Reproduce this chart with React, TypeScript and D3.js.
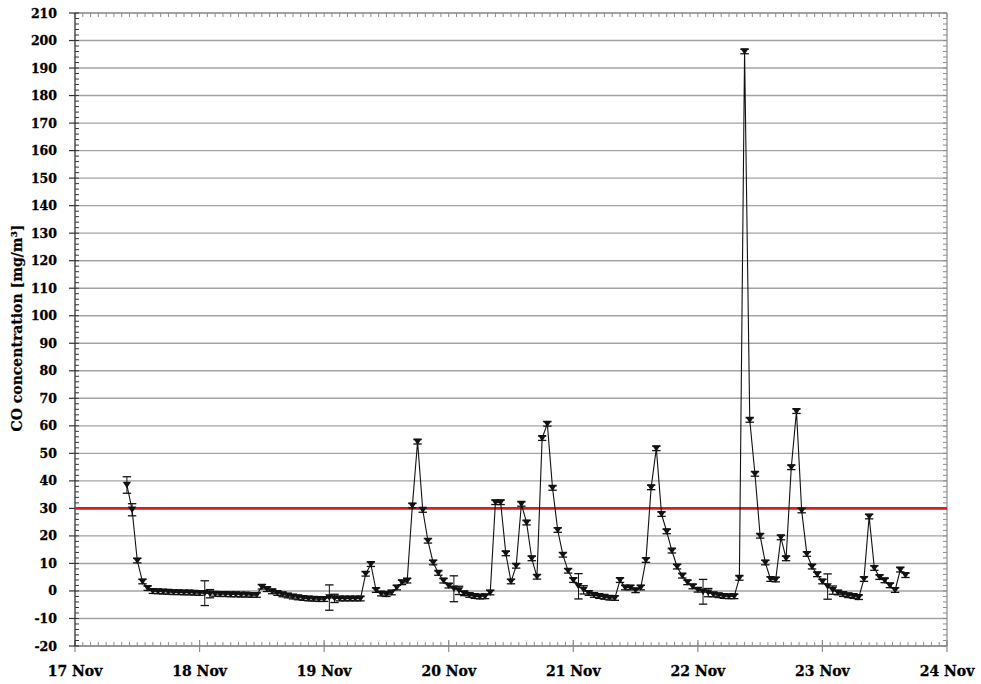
import React from 'react';
import * as d3 from 'd3';

// Hourly CO readings, first reading 17 Nov 10:00
const day17 = [38.5, 29.5, 11.0, 3.4, 1.0, -0.1, -0.2, -0.3, -0.4, -0.5, -0.5, -0.6, -0.6, -0.7];
const day18 = [-0.8, -0.8, -1.0, -1.1, -1.2, -1.2, -1.3, -1.3, -1.4, -1.4, -1.5, -1.5, 1.5, 0.6, -0.2, -0.8, -1.3, -1.7, -2.1, -2.4, -2.6, -2.8, -2.9, -3.0];
const day19 = [-3.0, -2.4, -2.7, -2.8, -2.8, -2.8, -2.8, -2.8, 6.2, 9.7, 0.3, -1.0, -1.2, -0.6, 1.2, 3.1, 3.7, 31.0, 54.2, 29.4, 18.2, 10.3, 6.5, 3.7];
const day20 = [1.9, 0.8, 0.2, -0.9, -1.5, -1.9, -2.1, -2.0, -0.6, 32.2, 32.2, 13.6, 3.4, 9.1, 31.6, 24.8, 11.8, 5.1, 55.5, 60.7, 37.4, 22.1, 13.1, 7.3];
const day21 = [3.9, 1.7, 0.4, -0.8, -1.5, -1.9, -2.2, -2.5, -2.6, 3.9, 1.2, 1.2, 0.2, 1.2, 11.2, 37.6, 51.8, 27.9, 21.6, 14.6, 8.8, 5.5, 3.1, 1.6];
const day22 = [0.4, -0.3, -0.6, -1.3, -1.6, -1.9, -2.0, -2.0, 4.7, 196.0, 62.1, 42.5, 20.0, 10.3, 4.3, 4.1, 19.4, 11.8, 44.9, 65.3, 29.2, 13.4, 8.8, 6.0];
const day23 = [3.4, 1.6, 0.3, -0.6, -1.2, -1.6, -1.9, -2.3, 4.3, 27.0, 8.3, 5.0, 3.8, 2.0, 0.3, 7.7, 5.7];

// Readings with wider uncertainty (index into the hourly series, ± value)
const wideErrIndex = [0, 1, 15, 16, 39, 40, 63, 64, 87, 88, 111, 112, 135, 136];
const wideErrSize = [3.0, 2.2, 4.5, 1.5, 4.6, 1.5, 4.7, 1.5, 4.6, 1.5, 4.5, 1.5, 4.6, 1.5];
const baseErr = 0.8;

const limitValue = 30;
const yTicks = d3.range(-20, 211, 10);
const dayTicks = d3.range(17, 25);

const W = 981;
const H = 684;
const left = 75;
const right = 947;
const top = 13;
const bottom = 646;

const start = new Date(2009, 10, 17, 10);
const values = [...day17, ...day18, ...day19, ...day20, ...day21, ...day22, ...day23];
const points = values.map((v, i) => ({ t: d3.timeHour.offset(start, i), v }));
const errOf = (i: number) => {
  const k = wideErrIndex.indexOf(i);
  return k >= 0 ? wideErrSize[k] : baseErr;
};

export default function App() {
  const x = d3.scaleTime()
    .domain([new Date(2009, 10, 17), new Date(2009, 10, 24)])
    .range([left, right]);
  const y = d3.scaleLinear().domain([-20, 210]).range([bottom, top]);

  const line = d3.line<{ t: Date; v: number }>()
    .x(d => x(d.t))
    .y(d => y(d.v));

  const dayDates = dayTicks.map(d => new Date(2009, 10, d));
  const minorX = d3.range(0, 7 * 16 + 1).map(k =>
    d3.timeMinute.offset(new Date(2009, 10, 17), k * 90));
  const minorY = d3.range(-20, 211, 2);
  const fmt = d3.timeFormat('%d Nov');

  const font = "'DejaVu Serif', serif";

  return (
    <svg width={W} height={H} style={{ position: 'absolute', left: 0, top: 0, background: '#fff' }}>
      {/* horizontal gridlines */}
      {yTicks.map(t => (
        <line key={'g' + t} x1={left} x2={right} y1={y(t)} y2={y(t)} stroke="#a3a3a3" strokeWidth={1.4} />
      ))}

      {/* frame: top and right mirror axes */}
      <line x1={left} x2={right} y1={top} y2={top} stroke="#8c8c8c" strokeWidth={1.2} />
      <line x1={right} x2={right} y1={top} y2={bottom} stroke="#8c8c8c" strokeWidth={1.2} />
      {minorX.map((t, i) => (
        <line key={'tm' + i} x1={x(t)} x2={x(t)} y1={top} y2={top + 4} stroke="#8c8c8c" strokeWidth={1} />
      ))}
      {minorY.map(v => (
        <line key={'rm' + v} x1={right - 4} x2={right} y1={y(v)} y2={y(v)} stroke="#8c8c8c" strokeWidth={1} />
      ))}

      {/* bottom axis */}
      <line x1={left} x2={right} y1={bottom} y2={bottom} stroke="#8c8c8c" strokeWidth={1.4} />
      {minorX.map((t, i) => (
        <line key={'bm' + i} x1={x(t)} x2={x(t)} y1={bottom - 4} y2={bottom} stroke="#8c8c8c" strokeWidth={1} />
      ))}
      {dayDates.map((d, i) => (
        <g key={'xd' + i}>
          <line x1={x(d)} x2={x(d)} y1={bottom - 6} y2={bottom + 6} stroke="#8c8c8c" strokeWidth={1.2} />
          <text x={x(d)} y={676} textAnchor="middle" fontFamily={font} fontWeight="bold" fontSize={14} fill="#000"
            stroke="#000" strokeWidth={0.3}>
            {fmt(d)}
          </text>
        </g>
      ))}

      {/* left axis */}
      <line x1={left} x2={left} y1={top} y2={bottom} stroke="#333" strokeWidth={1.3} />
      {minorY.map(v => (
        <line key={'lm' + v} x1={left} x2={left + 4} y1={y(v)} y2={y(v)} stroke="#333" strokeWidth={1} />
      ))}
      {yTicks.map(t => (
        <g key={'yl' + t}>
          <line x1={left - 6} x2={left} y1={y(t)} y2={y(t)} stroke="#333" strokeWidth={1.2} />
          <text x={57} y={y(t) + 4.5} textAnchor="end" fontFamily={font} fontWeight="bold" fontSize={12.5} fill="#000"
            stroke="#000" strokeWidth={0.3}>
            {t}
          </text>
        </g>
      ))}
      <text
        transform={`translate(22,328) rotate(-90)`}
        textAnchor="middle"
        fontFamily={font}
        fontWeight="bold"
        fontSize={14}
        fill="#000"
        stroke="#000"
        strokeWidth={0.2}
      >
        CO concentration [mg/m³]
      </text>

      {/* limit value */}
      <line x1={left} x2={right} y1={y(limitValue)} y2={y(limitValue)} stroke="#e0191f" strokeWidth={2.6} />

      {/* series */}
      <path d={line(points) ?? ''} fill="none" stroke="#111" strokeWidth={1.1} />
      {points.map((p, i) => {
        const cx = x(p.t);
        const cy = y(p.v);
        const e = errOf(i);
        const y1 = y(p.v + e);
        const y2 = y(p.v - e);
        return (
          <g key={'p' + i}>
            <line x1={cx} x2={cx} y1={y1} y2={y2} stroke="#111" strokeWidth={1} />
            <line x1={cx - 4.2} x2={cx + 4.2} y1={y1} y2={y1} stroke="#111" strokeWidth={1.3} />
            <line x1={cx - 4.2} x2={cx + 4.2} y1={y2} y2={y2} stroke="#111" strokeWidth={1.3} />
            <path d={`M${cx - 4.2},${cy - 3.2}L${cx + 4.2},${cy - 3.2}L${cx},${cy + 3.2}Z`} fill="#111" />
          </g>
        );
      })}
    </svg>
  );
}
